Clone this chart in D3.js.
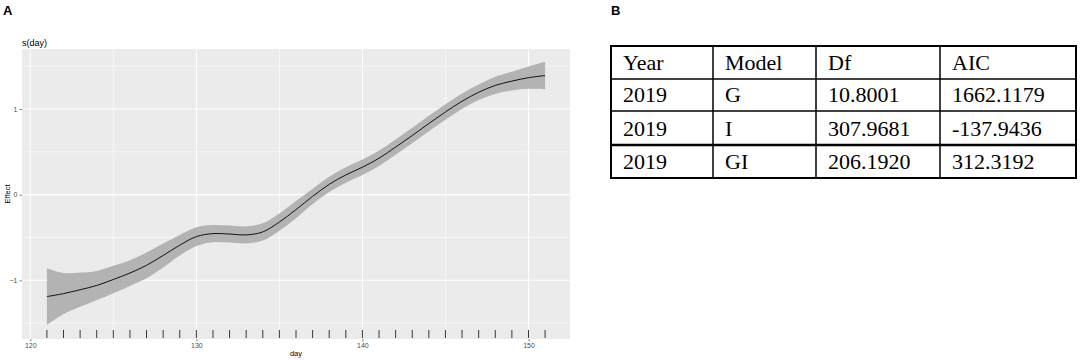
<!DOCTYPE html>
<html>
<head>
<meta charset="utf-8">
<script src="https://cdn.jsdelivr.net/npm/d3@7"></script>
<style>
  body { margin: 0; background: #fff; }
  svg { display: block; }
</style>
</head>
<body>
<svg id="chart"></svg>
<script>
// smooth s(day) estimate and half-width of its confidence band
const days = d3.range(121, 152);
const fit = [-1.19, -1.155, -1.11, -1.06, -0.99, -0.915, -0.825, -0.71, -0.59, -0.49,
  -0.455, -0.46, -0.47, -0.435, -0.32, -0.175, -0.02, 0.12, 0.23, 0.32,
  0.425, 0.555, 0.69, 0.83, 0.965, 1.09, 1.195, 1.275, 1.325, 1.365, 1.39];
const halfWidth = [0.33, 0.24, 0.2, 0.17, 0.16, 0.15, 0.15, 0.14, 0.12, 0.11,
  0.1, 0.1, 0.1, 0.1, 0.1, 0.1, 0.09, 0.09, 0.09, 0.09,
  0.09, 0.09, 0.09, 0.09, 0.09, 0.09, 0.09, 0.1, 0.11, 0.13, 0.16];
const rugDays = days;
const xTicks = [120, 130, 140, 150];
const yTicks = [-1, 0, 1];

// table in panel B
const tableHeader = ['Year', 'Model', 'Df', 'AIC'];
const tableRows = [
  ['2019', 'G', '10.8001', '1662.1179'],
  ['2019', 'I', '307.9681', '-137.9436'],
  ['2019', 'GI', '206.1920', '312.3192']
];

const W = 1084, H = 360;
const svg = d3.select('#chart').attr('width', W).attr('height', H);

const panel = { left: 22, right: 570, top: 49, bottom: 339 };

const x = d3.scaleLinear().domain([119.5, 152.5]).range([panel.left, panel.right]);
const y = d3.scaleLinear().domain([-1.685, 1.7]).range([panel.bottom, panel.top]);

svg.append('text').attr('x', 3).attr('y', 15)
  .style('font-family', 'Liberation Sans, Arial, sans-serif')
  .style('font-weight', 'bold').style('font-size', '13px').text('A');

svg.append('rect')
  .attr('x', panel.left).attr('y', panel.top)
  .attr('width', panel.right - panel.left).attr('height', panel.bottom - panel.top)
  .attr('fill', '#ebebeb');

const minorX = [125, 135, 145];
const minorY = [-1.5, -0.5, 0.5, 1.5];

const grid = svg.append('g');
grid.selectAll('.mx').data(minorX).enter().append('line')
  .attr('x1', d => x(d)).attr('x2', d => x(d))
  .attr('y1', panel.top).attr('y2', panel.bottom)
  .attr('stroke', '#fff').attr('stroke-width', 0.6);
grid.selectAll('.my').data(minorY).enter().append('line')
  .attr('y1', d => y(d)).attr('y2', d => y(d))
  .attr('x1', panel.left).attr('x2', panel.right)
  .attr('stroke', '#fff').attr('stroke-width', 0.6);
grid.selectAll('.Mx').data(xTicks).enter().append('line')
  .attr('x1', d => x(d)).attr('x2', d => x(d))
  .attr('y1', panel.top).attr('y2', panel.bottom)
  .attr('stroke', '#fff').attr('stroke-width', 1.1);
grid.selectAll('.My').data(yTicks).enter().append('line')
  .attr('y1', d => y(d)).attr('y2', d => y(d))
  .attr('x1', panel.left).attr('x2', panel.right)
  .attr('stroke', '#fff').attr('stroke-width', 1.1);

const pts = days.map((d, i) => ({ day: d, fit: fit[i], hw: halfWidth[i] }));

const band = d3.area()
  .x(d => x(d.day))
  .y0(d => y(d.fit - d.hw))
  .y1(d => y(d.fit + d.hw))
  .curve(d3.curveCatmullRom);

svg.append('path').datum(pts)
  .attr('fill', '#b3b3b3')
  .attr('d', band);

const line = d3.line()
  .x(d => x(d.day))
  .y(d => y(d.fit))
  .curve(d3.curveCatmullRom);

svg.append('path').datum(pts)
  .attr('fill', 'none')
  .attr('stroke', '#111')
  .attr('stroke-width', 1)
  .attr('d', line);

svg.append('g').selectAll('line').data(rugDays).enter().append('line')
  .attr('x1', d => x(d)).attr('x2', d => x(d))
  .attr('y1', 330).attr('y2', 338)
  .attr('stroke', '#222').attr('stroke-width', 0.9);

// axes
const fontSans = 'Liberation Sans, Arial, sans-serif';
const xAxis = svg.append('g')
  .attr('transform', `translate(0,${panel.bottom})`)
  .call(d3.axisBottom(x).tickValues(xTicks).tickSize(2.5).tickPadding(2));
const yAxis = svg.append('g')
  .attr('transform', `translate(${panel.left},0)`)
  .call(d3.axisLeft(y).tickValues(yTicks).tickFormat(d3.format('d')).tickSize(2.5).tickPadding(2));
[xAxis, yAxis].forEach(a => {
  a.select('.domain').remove();
  a.selectAll('.tick line').attr('stroke', '#333').attr('stroke-width', 0.6);
  a.selectAll('.tick text').attr('fill', '#4d4d4d')
    .style('font-family', fontSans).style('font-size', '7px');
});

svg.append('text').attr('x', panel.left).attr('y', 46)
  .style('font-family', fontSans).style('font-size', '9px').text('s(day)');

svg.append('text').attr('x', (panel.left + panel.right) / 2).attr('y', 356)
  .attr('text-anchor', 'middle')
  .style('font-family', fontSans).style('font-size', '7.5px').text('day');

svg.append('text')
  .attr('transform', `translate(10,${(panel.top + panel.bottom) / 2}) rotate(-90)`)
  .attr('text-anchor', 'middle')
  .style('font-family', fontSans).style('font-size', '7.5px').text('Effect');

// panel B table
svg.append('text').attr('x', 611).attr('y', 15)
  .style('font-family', fontSans)
  .style('font-weight', 'bold').style('font-size', '13px').text('B');

const colEdges = [611, 713, 816, 940, 1076];
const rowEdges = [46, 79, 111, 145, 178];
const table = svg.append('g');
const allRows = [tableHeader].concat(tableRows);

allRows.forEach((row, r) => {
  row.forEach((cell, c) => {
    table.append('text')
      .attr('x', colEdges[c] + 12)
      .attr('y', rowEdges[r + 1] - 9)
      .style('font-family', 'Liberation Serif, Times New Roman, serif')
      .style('font-size', '22px')
      .attr('fill', '#000')
      .text(cell);
  });
});

rowEdges.slice(1, -1).forEach((yy, i) => {
  table.append('line')
    .attr('x1', colEdges[0]).attr('x2', colEdges[colEdges.length - 1])
    .attr('y1', yy).attr('y2', yy)
    .attr('stroke', '#000').attr('stroke-width', i === 2 ? 2.5 : 1.5);
});
colEdges.slice(1, -1).forEach(xx => {
  table.append('line')
    .attr('x1', xx).attr('x2', xx)
    .attr('y1', rowEdges[0]).attr('y2', rowEdges[rowEdges.length - 1])
    .attr('stroke', '#000').attr('stroke-width', 1.5);
});
table.append('rect')
  .attr('x', colEdges[0]).attr('y', rowEdges[0])
  .attr('width', colEdges[colEdges.length - 1] - colEdges[0])
  .attr('height', rowEdges[rowEdges.length - 1] - rowEdges[0])
  .attr('fill', 'none').attr('stroke', '#000').attr('stroke-width', 2);
</script>
</body>
</html>
